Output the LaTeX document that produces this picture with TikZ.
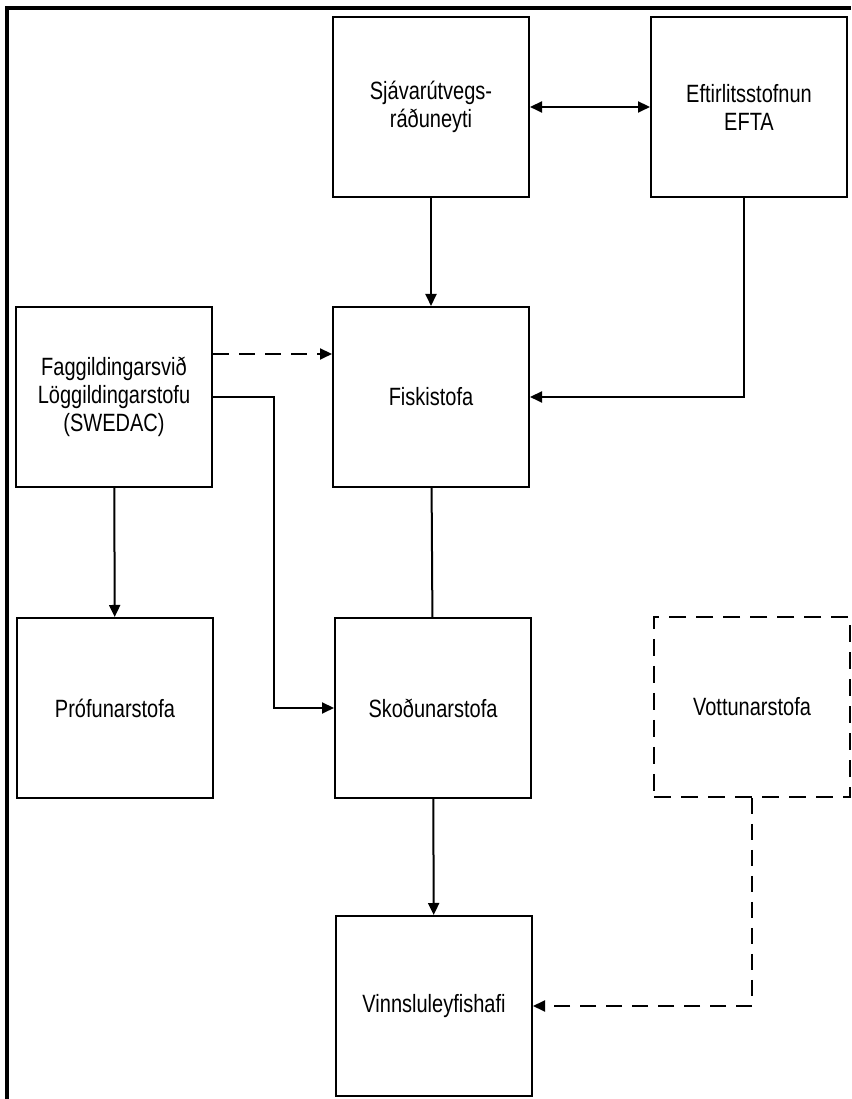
\documentclass[tikz,border=0pt]{standalone}
\usepackage{fontspec}
\setmainfont[FakeStretch=0.8]{Liberation Sans}
\usetikzlibrary{arrows.meta}

\begin{document}
\begin{tikzpicture}[x=1pt, y=1pt, >={Triangle[length=12pt, width=11pt]},
        box/.style={draw, line width=2pt, minimum width=196pt, minimum height=180pt,
                    align=center, inner sep=0pt, font=\fontsize{25}{28}\selectfont},
        dbox/.style={box, dash pattern=on 17pt off 10pt},
        link/.style={line width=2pt, ->},
        dlink/.style={link, dash pattern=on 16pt off 10pt},
        frame/.style={line width=3.5pt}]
            \useasboundingbox (0, 0) rectangle (851, 1099);

            % ramminn
            \draw [frame] (7, 0) -- (7, 1091) -- (851, 1091);

            \node[box] (sjav) at (431, 992) {Sjávarútvegs-\\ráðuneyti};
            \node[box] (efta) at (749, 992) {Eftirlitsstofnun\\EFTA};

            \node[box] (fagg) at (114, 702) {Faggildingarsvið\\Löggildingarstofu\\(SWEDAC)};
            \node[box] (fisk) at (431, 702) {Fiskistofa};

            \node[box] (prof) at (115, 391) {Prófunarstofa};
            \node[box] (skod) at (433, 391) {Skoðunarstofa};
            \node[dbox] (vott) at (752, 392) {Vottunarstofa};

            \node[box] (vinn) at (434, 93) {Vinnsluleyfishafi};

            \draw [link, <->] (sjav) -- (efta);
            \draw [link] (sjav) -- (fisk);
            \draw [link] ([xshift=-5pt]efta.south) |- (fisk.east);
            \draw [dlink] ([yshift=43pt]fagg.east) -- ([yshift=43pt]fisk.west);
            \draw [link] (fagg.east) -- ++(61, 0) |- (skod.west);
            \draw [link] (fagg) -- (prof);
            \draw [line width=2pt] (fisk) -- (skod);
            \draw [link] (skod) -- (vinn);
            \draw [dlink] (vott.south) |- (vinn.east);

        \end{tikzpicture}
\end{document}
